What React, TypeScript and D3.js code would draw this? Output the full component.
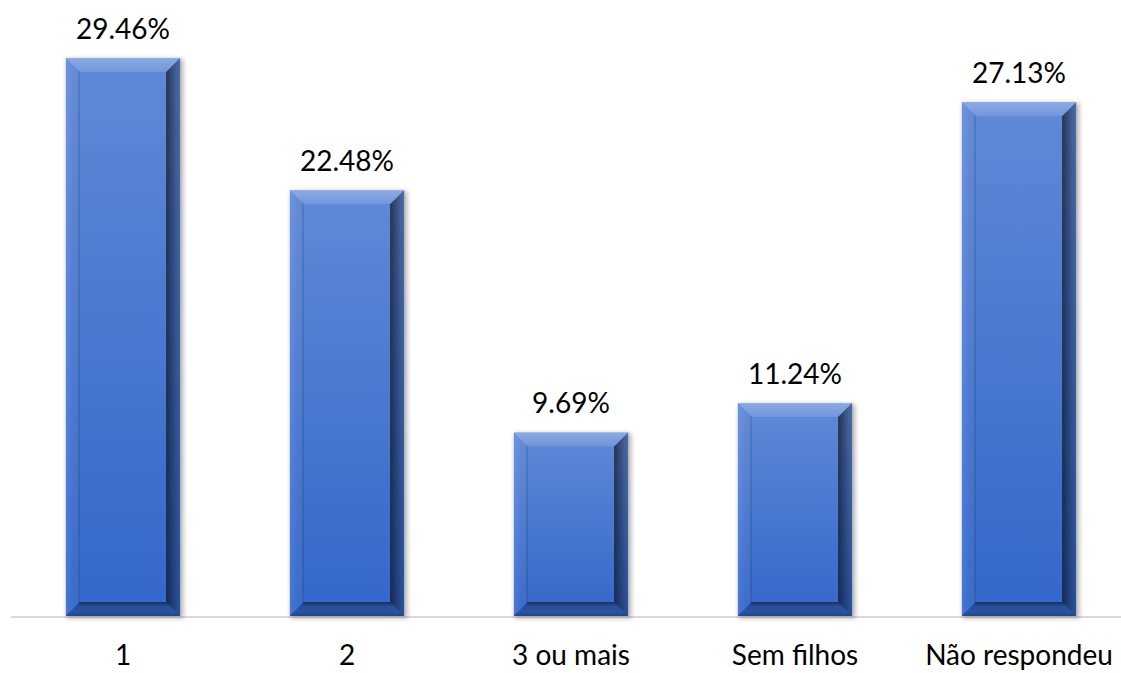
import React from "react";
import * as d3 from "d3";

const categories = ["1", "2", "3 ou mais", "Sem filhos", "Não respondeu"];
const values = [29.46, 22.48, 9.69, 11.24, 27.13];
const valueLabels = ["29.46%", "22.48%", "9.69%", "11.24%", "27.13%"];

const W = 1121;
const H = 673;
const BASE_Y = 616;
const BEVEL = 14;
const FONT = "Lato, 'Open Sans', 'Noto Sans', sans-serif";

export default function App() {
  const x = d3
    .scaleBand<string>()
    .domain(categories)
    .range([11, 1131])
    .paddingInner(0.49)
    .paddingOuter(0.245);
  const y = d3.scaleLinear().domain([0, 30]).range([BASE_Y, BASE_Y - 30 * (558 / 29.46)]);
  const bw = x.bandwidth();

  return (
    <svg
      width={W}
      height={H}
      style={{ position: "fixed", left: 0, top: 0, background: "#fff" }}
    >
      <defs>
        <linearGradient id="face" x1="0" y1="0" x2="0" y2="1">
          <stop offset="0" stopColor="#6089d7" />
          <stop offset="1" stopColor="#3467cb" />
        </linearGradient>
        <linearGradient id="rightShade" x1="0" y1="0" x2="1" y2="0">
          <stop offset="0" stopColor="#000" stopOpacity="0.62" />
          <stop offset="0.35" stopColor="#000" stopOpacity="0.45" />
          <stop offset="1" stopColor="#000" stopOpacity="0.2" />
        </linearGradient>
        <linearGradient id="bottomShade" x1="0" y1="0" x2="0" y2="1">
          <stop offset="0" stopColor="#000" stopOpacity="0.55" />
          <stop offset="0.3" stopColor="#000" stopOpacity="0.25" />
          <stop offset="0.7" stopColor="#000" stopOpacity="0.2" />
          <stop offset="1" stopColor="#000" stopOpacity="0.35" />
        </linearGradient>
        <linearGradient id="topShade" x1="0" y1="0" x2="0" y2="1">
          <stop offset="0" stopColor="#fff" stopOpacity="0.28" />
          <stop offset="1" stopColor="#fff" stopOpacity="0.12" />
        </linearGradient>
        <linearGradient id="leftShade" x1="0" y1="0" x2="1" y2="0">
          <stop offset="0" stopColor="#fff" stopOpacity="0.1" />
          <stop offset="0.6" stopColor="#fff" stopOpacity="0.02" />
          <stop offset="1" stopColor="#000" stopOpacity="0.18" />
        </linearGradient>
        <filter id="shadow" x="-20%" y="-20%" width="140%" height="140%">
          <feGaussianBlur stdDeviation="2.5" />
        </filter>
      </defs>

      <line x1={11} x2={W} y1={BASE_Y + 1} y2={BASE_Y + 1} stroke="#d9d9d9" strokeWidth={2} />

      {categories.map((c, i) => {
        const x0 = x(c)!;
        const x1 = x0 + bw;
        const y0 = y(values[i]);
        const y1 = BASE_Y;
        const b = BEVEL;
        const pts = (p: number[][]) => p.map((q) => q.join(",")).join(" ");
        return (
          <g key={c}>
            <rect
              x={x0 + 1}
              y={y0 + 1}
              width={bw + 2}
              height={y1 - y0 + 1}
              fill="#000"
              opacity={0.3}
              filter="url(#shadow)"
            />
            <rect x={x0} y={y0} width={bw} height={y1 - y0} fill="url(#face)" />
            <polygon
              points={pts([[x0, y0], [x1, y0], [x1 - b, y0 + b], [x0 + b, y0 + b]])}
              fill="url(#topShade)"
            />
            <polygon
              points={pts([[x0, y0], [x0 + b, y0 + b], [x0 + b, y1 - b], [x0, y1]])}
              fill="url(#leftShade)"
            />
            <polygon
              points={pts([[x1, y0], [x1, y1], [x1 - b, y1 - b], [x1 - b, y0 + b]])}
              fill="url(#rightShade)"
            />
            <polygon
              points={pts([[x0, y1], [x0 + b, y1 - b], [x1 - b, y1 - b], [x1, y1]])}
              fill="url(#bottomShade)"
            />
            <text
              x={x0 + bw / 2}
              y={y0 - 19}
              textAnchor="middle"
              fontFamily={FONT}
              fontSize={28}
              fill="#000"
            >
              {valueLabels[i]}
            </text>
            <text
              x={x0 + bw / 2}
              y={665}
              textAnchor="middle"
              fontFamily={FONT}
              fontSize={28}
              fill="#000"
            >
              {c}
            </text>
          </g>
        );
      })}
    </svg>
  );
}
